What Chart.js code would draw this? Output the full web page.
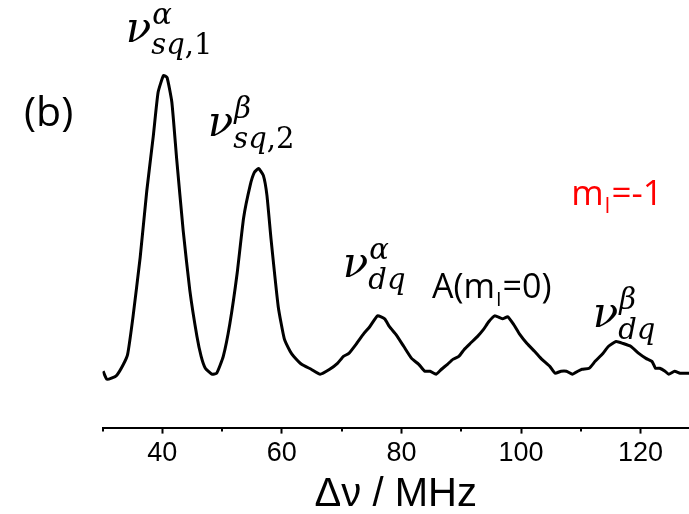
<!DOCTYPE html>
<html>
<head>
<meta charset="utf-8">
<script src="https://cdn.jsdelivr.net/npm/chart.js@4.4.1/dist/chart.umd.min.js"></script>
<style>
  html, body { margin: 0; padding: 0; background: #fff; }
  #wrap { width: 689px; height: 514px; }
</style>
</head>
<body>
<div id="wrap"><canvas id="c" width="689" height="514"></canvas></div>
<script>
// Frequency offset (MHz) and measured signal (arbitrary units)
const freqMHz = [30.1,30.7,31.5,32.4,33.5,34.2,35.1,36.3,37.4,38.5,39.3,40.2,40.8,41.6,42.4,43.5,44.6,45.8,46.5,47.2,
  48.3,49.1,50.2,51.3,52.5,53.6,54.7,55.4,56.1,56.9,57.5,58.2,59.4,60.4,61.4,62.0,63.3,64.9,66.4,68.0,
  69.3,70.3,71.2,72.5,73.7,74.7,76.0,77.2,78.0,79.1,80.4,81.7,82.9,83.9,84.8,85.8,86.7,87.7,88.6,89.6,
  90.5,91.5,92.7,93.7,94.6,95.6,96.9,97.8,98.8,99.7,101.0,102.3,103.5,104.8,105.7,106.7,107.6,108.6,109.5,110.2,
  111.4,112.4,113.7,114.6,115.9,117.1,118.4,119.7,120.9,121.9,122.5,123.2,124.1,124.7,125.7,126.6,128.1];
const signal = [57,49,50,53,64,74,112,172,239,295,339,356,354,329,272,199,139,92,72,60,
  54,55,72,105,155,212,245,258,262,255,235,190,122,90,77,72,64,59,54,59,
  65,72,75,85,95,102,113,110,102,94,82,70,64,57,57,54,59,64,69,72,
  79,85,92,99,107,113,110,112,104,95,85,77,69,62,55,57,57,54,57,59,
  60,67,75,82,87,85,82,75,70,67,60,60,57,54,57,55,55];

// Axis
const xMin = 30, xMax = 128.1;
const labelledTicks = [40, 60, 80, 100, 120];
const tickStep = 10;
const axisTitle = 'Δν / MHz';

// Peak assignments: anchor (MHz, signal), superscript, subscript parts
const peakNames = ['sq1', 'sq2', 'dqA', 'dqB'];
const peakAnchorX = [33.9, 47.6, 70.2, 112.0];
const peakAnchorY = [390, 295, 152, 102];
const peakSup = ['α', 'β', 'α', 'β'];
const peakSub = [[['s', 1], ['q', 1], [',1', 0]], [['s', 1], ['q', 1], [',2', 0]], [['dq', 1]], [['dq', 1]]];

// Plain labels
const stateLabel = { x: 85.1, y: 131, pre: 'A(m', sub: 'I', post: '=0)', color: '#000' };
const branchLabel = { x: 108.4, y: 225, pre: 'm', sub: 'I', post: '=-1', color: '#ff0000' };
const panelLabel = '(b)';

const SANS = '"Open Sans", "Liberation Sans", sans-serif';
const SERIF = '"DejaVu Serif", "Liberation Serif", serif';

function drawSubLabel(ctx, px, py, lab, size) {
  ctx.fillStyle = lab.color;
  ctx.font = size + 'px ' + SANS;
  ctx.fillText(lab.pre, px, py);
  let w = ctx.measureText(lab.pre).width;
  ctx.font = Math.round(size * 0.6) + 'px ' + SANS;
  ctx.fillText(lab.sub, px + w + 1, py + 8);
  w += ctx.measureText(lab.sub).width + 2;
  ctx.font = size + 'px ' + SANS;
  ctx.fillText(lab.post, px + w, py);
}

const annotationPlugin = {
  id: 'annotations',
  afterDraw(chart) {
    const ctx = chart.ctx;
    const xs = chart.scales.x, ys = chart.scales.y;
    ctx.save();
    ctx.textBaseline = 'alphabetic';
    ctx.textAlign = 'left';
    ctx.fillStyle = '#000';

    // minor ticks at the odd multiples of ten
    ctx.strokeStyle = '#000';
    ctx.lineWidth = 2;
    const yb = chart.chartArea.bottom;
    for (let v = xMin; v <= xMax; v += tickStep) {
      if (labelledTicks.includes(v)) continue;
      const px = Math.round(xs.getPixelForValue(v));
      ctx.beginPath();
      ctx.moveTo(px, yb);
      ctx.lineTo(px, yb + 4);
      ctx.stroke();
    }

    // peak assignments
    peakNames.forEach((n, i) => {
      const px = xs.getPixelForValue(peakAnchorX[i]);
      const py = ys.getPixelForValue(peakAnchorY[i]);
      ctx.fillStyle = '#000';
      ctx.font = 'italic 42px ' + SERIF;
      ctx.fillText('ν', px, py);
      const w = ctx.measureText('ν').width;
      ctx.font = 'italic 29px ' + SERIF;
      ctx.fillText(peakSup[i], px + w + 1, py - 18);
      let sx = px + w;
      peakSub[i].forEach(([t, it]) => {
        ctx.font = (it ? 'italic ' : '') + '29px ' + SERIF;
        ctx.fillText(t, sx, py + 12);
        sx += ctx.measureText(t).width;
      });
    });

    drawSubLabel(ctx, xs.getPixelForValue(stateLabel.x), ys.getPixelForValue(stateLabel.y), stateLabel, 34);
    drawSubLabel(ctx, xs.getPixelForValue(branchLabel.x), ys.getPixelForValue(branchLabel.y), branchLabel, 35);

    ctx.fillStyle = '#000';
    ctx.font = '41px ' + SANS;
    ctx.fillText(panelLabel, 24, 126);
    ctx.restore();
  }
};

new Chart(document.getElementById('c'), {
  type: 'line',
  data: {
    datasets: [{
      data: freqMHz.map((f, i) => ({ x: f, y: signal[i] })),
      borderColor: '#000',
      borderWidth: 3,
      borderJoinStyle: 'round',
      pointRadius: 0,
      fill: false,
      tension: 0.15
    }]
  },
  options: {
    responsive: false,
    animation: false,
    events: [],
    layout: { padding: { left: 102.5, right: 0, top: 32, bottom: 0 } },
    plugins: { legend: { display: false }, tooltip: { enabled: false } },
    scales: {
      x: {
        type: 'linear',
        min: xMin,
        max: xMax,
        border: { display: true, color: '#000', width: 2 },
        grid: {
          display: true,
          drawOnChartArea: false,
          drawTicks: true,
          tickLength: 6,
          tickWidth: 2,
          tickColor: c => (c.tick && labelledTicks.includes(c.tick.value)) ? '#000' : 'rgba(0,0,0,0)'
        },
        ticks: {
          stepSize: tickStep,
          includeBounds: false,
          autoSkip: false,
          maxRotation: 0,
          padding: 4,
          color: '#000',
          font: { family: '"Liberation Sans", Arial, sans-serif', size: 27, lineHeight: 1.2 },
          callback: v => labelledTicks.includes(v) ? String(v) : ''
        },
        title: {
          display: true,
          text: axisTitle,
          color: '#000',
          font: { family: '"Liberation Sans", Arial, sans-serif', size: 40, lineHeight: 1.0 },
          padding: { top: 1, bottom: -1 }
        }
      },
      y: { display: false, min: 0, max: 400 }
    }
  },
  plugins: [annotationPlugin]
});
</script>
</body>
</html>
